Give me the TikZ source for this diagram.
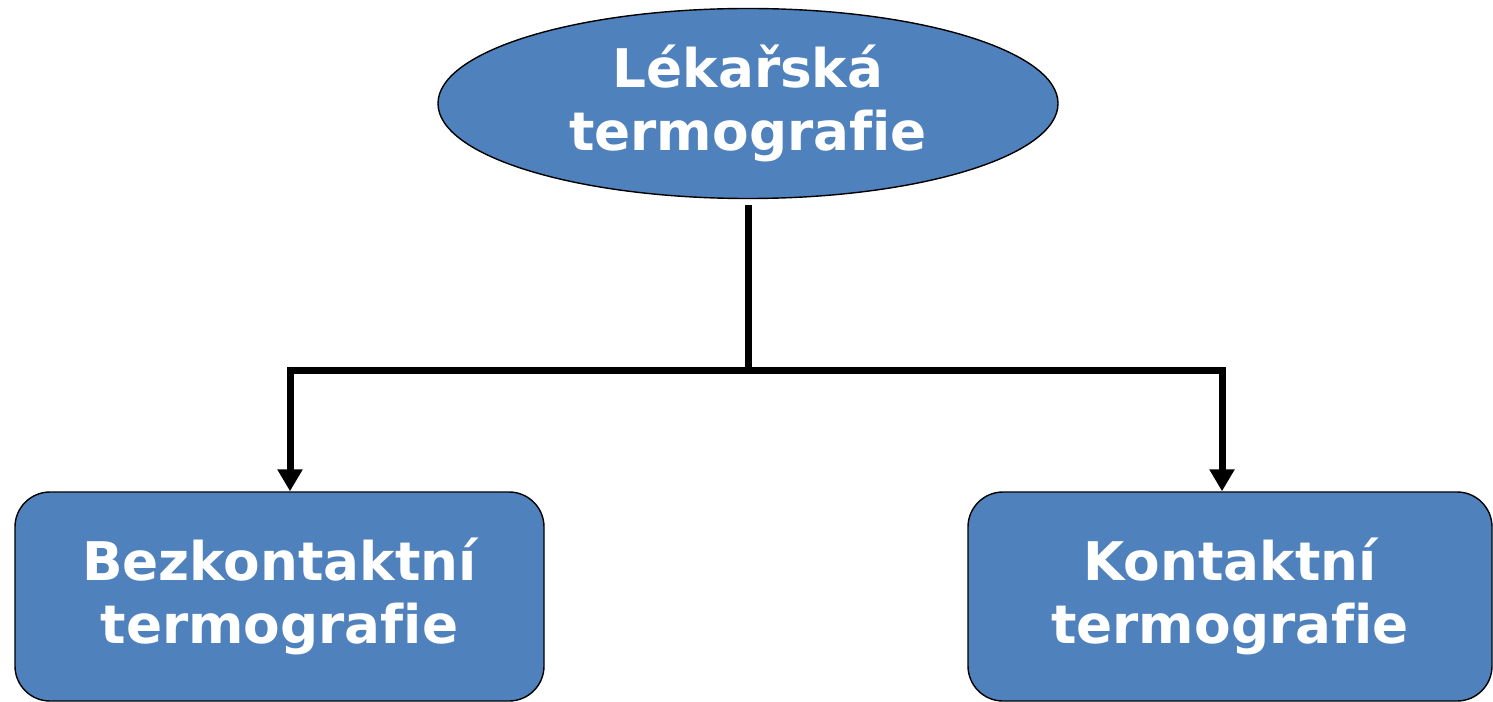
\documentclass[tikz,border=0pt]{standalone}
\usepackage{fontspec}
\setmainfont{DejaVu Sans}[Ligatures=CommonOff]
\usepackage{xcolor}
\usetikzlibrary{arrows.meta,shapes.geometric}
\definecolor{myblue}{RGB}{79,129,189}
\begin{document}
\begin{tikzpicture}[x=1cm,y=1cm,
every node/.style={text=white,font=\bfseries\fontsize{30.3}{36}\selectfont,align=center},
root/.style={ellipse,draw,line width=0.8pt,fill=myblue,minimum width=12.4cm,minimum height=3.8cm,inner sep=0pt},
leaf/.style={rectangle,rounded corners=0.7cm,draw,line width=0.8pt,fill=myblue,minimum width=10.58cm,minimum height=4.18cm},
link/.style={line width=0.14cm},
tip/.style={-{Triangle[width=0.48cm,length=0.44cm]}}]
\useasboundingbox (0,0) rectangle (29.86,14.02);
\node[root] (med) at (14.96,11.95) {Lékařská\\termografie};
\node[leaf] (bez) at (5.59,2.09) {Bezkontaktní\\termografie};
\node[leaf,minimum width=10.48cm] (kon) at (24.6,2.09) {Kontaktní\\termografie};
\coordinate (hub) at (14.96,6.62);
\draw[link,shorten <=0.12cm] (med.south) -- (hub);
\draw[link,tip] (hub) -| ([xshift=0.21cm]bez.north);
\draw[link,tip] (hub) -| ([xshift=-0.16cm]kon.north);
\end{tikzpicture}
\end{document}
